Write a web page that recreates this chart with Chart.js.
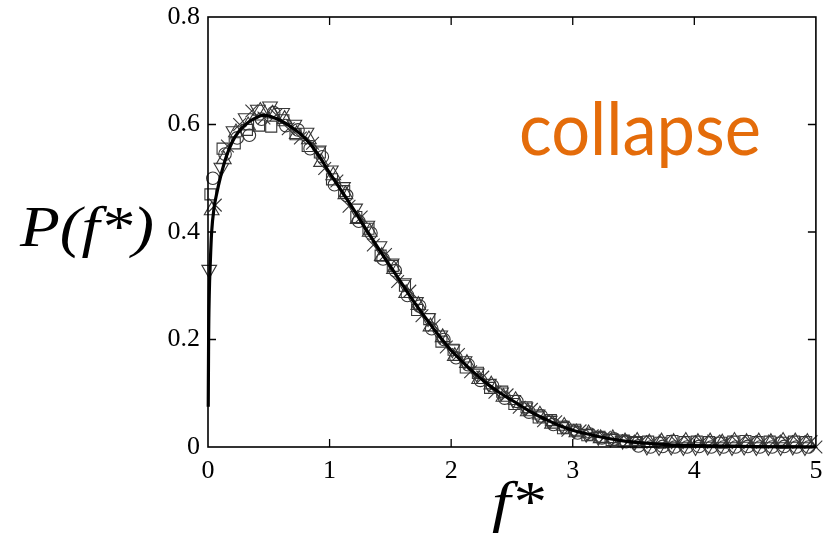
<!DOCTYPE html>
<html><head><meta charset="utf-8">
<script src="https://cdn.jsdelivr.net/npm/chart.js@4.4.1/dist/chart.umd.min.js"></script>
<style>html,body{margin:0;padding:0;background:#fff;}#wrap{width:826px;height:538px;position:relative;}</style>
</head><body><div id="wrap"><canvas id="c" width="826" height="538"></canvas></div>
<script>
// ---- data ----
const xTickValues = [0, 1, 2, 3, 4, 5];
const xTickLabels = ['0', '1', '2', '3', '4', '5'];
const yTickValues = [0, 0.2, 0.4, 0.6, 0.8];
const yTickLabels = ['0', '0.2', '0.4', '0.6', '0.8'];

const curveF = [0.002,0.005,0.01,0.02,0.03,0.05,0.075,0.1,0.15,0.2,0.25,0.3,0.35,0.4,0.45,0.5,0.55,0.6,0.7,0.8,0.9,1.0,1.1,1.2,1.3,1.4,1.5,1.6,1.7,1.8,1.9,2.0,2.1,2.2,2.3,2.4,2.5,2.6,2.7,2.8,2.9,3.0,3.2,3.4,3.6,3.8,4.0,4.5,5.0];
const curveP = [0.075,0.2,0.28,0.35,0.40,0.445,0.475,0.50,0.54,0.568,0.586,0.598,0.607,0.613,0.617,0.616,0.612,0.607,0.593,0.574,0.546,0.510,0.476,0.441,0.405,0.370,0.336,0.302,0.268,0.237,0.207,0.180,0.157,0.136,0.117,0.101,0.087,0.073,0.060,0.049,0.039,0.031,0.020,0.012,0.007,0.004,0.0025,0.0007,0.0001];

const triUpF = [0.03,0.13,0.23,0.33,0.43,0.53,0.63,0.73,0.83,0.93,1.03,1.13,1.23,1.33,1.43,1.53,1.63,1.73,1.83,1.93,2.03,2.13,2.23,2.33,2.43,2.53,2.63,2.73,2.83,2.93,3.03,3.13,3.23,3.33,3.43,3.53,3.63,3.73,3.83,3.93,4.03,4.13,4.23,4.33,4.43,4.53,4.63,4.73,4.83,4.93];
const triUpP = [0.44,0.535,0.585,0.598,0.625,0.620,0.610,0.582,0.572,0.530,0.505,0.470,0.424,0.400,0.355,0.331,0.286,0.264,0.224,0.204,0.169,0.156,0.126,0.116,0.093,0.087,0.066,0.060,0.043,0.039,0.027,0.025,0.016,0.016,0.010,0.011,0.008,0.010,0.009,0.011,0.009,0.010,0.008,0.011,0.009,0.010,0.009,0.011,0.010,0.009];

const triDownF = [0.01,0.11,0.21,0.31,0.41,0.51,0.61,0.71,0.81,0.91,1.01,1.11,1.21,1.31,1.41,1.51,1.61,1.71,1.81,1.91,2.01,2.11,2.21,2.31,2.41,2.51,2.61,2.71,2.81,2.91,3.01,3.11,3.21,3.31,3.41,3.51,3.61,3.71,3.81,3.91,4.01,4.11,4.21,4.31,4.41,4.51,4.61,4.71,4.81,4.91];
const triDownP = [0.33,0.52,0.588,0.612,0.628,0.634,0.622,0.600,0.585,0.552,0.515,0.484,0.444,0.412,0.374,0.342,0.305,0.270,0.240,0.208,0.182,0.160,0.137,0.118,0.102,0.088,0.074,0.061,0.049,0.040,0.031,0.025,0.019,0.016,0.012,0.010,0.001,0.0,0.001,0.0,0.0,0.001,0.0,0.0,0.001,0.0,0.0,0.0,0.001,0.0];

const squareF = [0.02,0.12,0.22,0.32,0.42,0.52,0.62,0.72,0.82,0.92,1.02,1.12,1.22,1.32,1.42,1.52,1.62,1.72,1.82,1.92,2.02,2.12,2.22,2.32,2.42,2.52,2.62,2.72,2.82,2.92,3.02,3.12,3.22,3.32,3.42,3.52,3.62,3.72,3.82,3.92,4.02,4.12,4.22,4.32,4.42,4.52,4.62,4.72,4.82,4.92];
const squareP = [0.47,0.555,0.565,0.590,0.598,0.596,0.608,0.582,0.560,0.548,0.498,0.476,0.428,0.406,0.356,0.337,0.300,0.255,0.238,0.196,0.181,0.148,0.138,0.110,0.103,0.080,0.074,0.055,0.050,0.035,0.032,0.022,0.019,0.013,0.012,0.009,0.010,0.008,0.011,0.009,0.010,0.009,0.008,0.010,0.011,0.009,0.010,0.008,0.010,0.009];

const circleF = [0.04,0.14,0.24,0.34,0.44,0.54,0.64,0.74,0.84,0.94,1.04,1.14,1.24,1.34,1.44,1.54,1.64,1.74,1.84,1.94,2.04,2.14,2.24,2.34,2.44,2.54,2.64,2.74,2.84,2.94,3.04,3.14,3.24,3.34,3.44,3.54,3.64,3.74,3.84,3.94,4.04,4.14,4.24,4.34,4.44,4.54,4.64,4.74,4.84,4.94];
const circleP = [0.50,0.545,0.575,0.580,0.610,0.622,0.598,0.590,0.555,0.540,0.488,0.468,0.420,0.398,0.350,0.328,0.282,0.262,0.220,0.200,0.166,0.153,0.124,0.114,0.091,0.085,0.065,0.058,0.042,0.037,0.026,0.024,0.017,0.015,0.010,0.002,0.0,0.001,0.0,0.0,0.001,0.0,0.0,0.0,0.001,0.0,0.0,0.001,0.0,0.0];

const crossF = [0.06,0.16,0.26,0.36,0.46,0.56,0.66,0.76,0.86,0.96,1.06,1.16,1.26,1.36,1.46,1.56,1.66,1.76,1.86,1.96,2.06,2.16,2.26,2.36,2.46,2.56,2.66,2.76,2.86,2.96,3.06,3.16,3.26,3.36,3.46,3.56,3.66,3.76,3.86,3.96,4.06,4.16,4.26,4.36,4.46,4.56,4.66,4.76,4.86,4.96,5.0];
const crossP = [0.45,0.56,0.600,0.625,0.612,0.618,0.592,0.575,0.565,0.518,0.495,0.448,0.428,0.376,0.358,0.308,0.290,0.244,0.226,0.186,0.172,0.140,0.130,0.102,0.097,0.074,0.070,0.049,0.047,0.031,0.030,0.021,0.018,0.012,0.011,0.010,0.009,0.011,0.008,0.010,0.009,0.011,0.010,0.008,0.010,0.009,0.011,0.010,0.009,0.010,0.0];

const yTitle = 'P(f*)';
const xTitle = 'f*';
const annotation = 'collapse';

// ---- build ----
const pts = (xs, ys) => xs.map((v, i) => ({x: v, y: ys[i]}));
const markerColor = '#363636';
function markerSet(xs, ys, style, radius, rotation) {
  return {
    data: pts(xs, ys), showLine: false, pointStyle: style, pointRadius: radius,
    rotation: rotation || 0, pointBackgroundColor: 'rgba(0,0,0,0)',
    pointBorderColor: markerColor, pointBorderWidth: 1.1, clip: false
  };
}

const serifTick = {family: '"Liberation Serif", serif', size: 26};
function noOverflow(s) { s.paddingLeft = 0; s.paddingRight = 0; s.paddingTop = 0; s.paddingBottom = 0; }

const decor = {
  id: 'decor',
  afterDatasetsDraw(chart) {
    const {ctx, chartArea: a, scales: {x, y}} = chart;
    ctx.save();
    ctx.strokeStyle = '#000';
    ctx.lineWidth = 1.6;
    ctx.strokeRect(a.left, a.top, a.right - a.left, a.bottom - a.top);
    ctx.lineWidth = 1.3;
    const L = 8;
    ctx.beginPath();
    xTickValues.forEach(v => {
      const px = x.getPixelForValue(v);
      if (px > a.left + 1 && px < a.right - 1) {
        ctx.moveTo(px, a.bottom); ctx.lineTo(px, a.bottom - L);
        ctx.moveTo(px, a.top); ctx.lineTo(px, a.top + L);
      }
    });
    yTickValues.forEach(v => {
      const py = y.getPixelForValue(v);
      if (py > a.top + 1 && py < a.bottom - 1) {
        ctx.moveTo(a.left, py); ctx.lineTo(a.left + L, py);
        ctx.moveTo(a.right, py); ctx.lineTo(a.right - L, py);
      }
    });
    ctx.stroke();
    ctx.restore();
  },
  afterDraw(chart) {
    const {ctx} = chart;
    function fitText(txt, left, baseline, font, width, color) {
      ctx.save();
      ctx.font = font;
      ctx.fillStyle = color;
      ctx.textBaseline = 'alphabetic';
      ctx.textAlign = 'left';
      const w = ctx.measureText(txt).width;
      ctx.translate(left, baseline);
      ctx.scale(width / w, 1);
      ctx.fillText(txt, 0, 0);
      ctx.restore();
    }
    fitText(yTitle, 20, 246, 'italic 58px "Liberation Serif", serif', 134, '#000');
    fitText(xTitle, 492, 521, 'italic 58px "Liberation Serif", serif', 52, '#000');
    fitText(annotation, 519, 155, '74px Lato, "Open Sans", sans-serif', 242, '#E46C0A');
  }
};

new Chart(document.getElementById('c'), {
  type: 'scatter',
  data: {
    datasets: [
      {type: 'line', data: pts(curveF, curveP), borderColor: '#000', borderWidth: 3.2,
       pointRadius: 0, fill: false, cubicInterpolationMode: 'monotone', clip: false},
      markerSet(triUpF, triUpP, 'triangle', 8.5, 0),
      markerSet(triDownF, triDownP, 'triangle', 8.5, 180),
      markerSet(squareF, squareP, 'rect', 7.8, 0),
      markerSet(circleF, circleP, 'circle', 6.3, 0),
      markerSet(crossF, crossP, 'crossRot', 9, 0)
    ]
  },
  options: {
    responsive: false, animation: false, events: [],
    layout: {padding: {left: 0, right: 8, top: 17, bottom: 0}},
    plugins: {legend: {display: false}, tooltip: {enabled: false}},
    scales: {
      x: {
        type: 'linear', min: 0, max: 5,
        afterBuildTicks: s => { s.ticks = xTickValues.map(v => ({value: v})); },
        afterFit: s => { s.height = 91; noOverflow(s); },
        ticks: {callback: (v, i) => xTickLabels[i], font: serifTick, color: '#000', padding: 9, maxRotation: 0, autoSkip: false},
        grid: {display: false, drawTicks: false},
        border: {display: false}
      },
      y: {
        type: 'linear', min: 0, max: 0.8,
        afterBuildTicks: s => { s.ticks = yTickValues.map(v => ({value: v})); },
        afterFit: s => { s.width = 208; noOverflow(s); },
        ticks: {callback: (v, i) => yTickLabels[i], font: serifTick, color: '#000', padding: 8, autoSkip: false},
        grid: {display: false, drawTicks: false},
        border: {display: false}
      }
    }
  },
  plugins: [decor]
});
</script></body></html>
